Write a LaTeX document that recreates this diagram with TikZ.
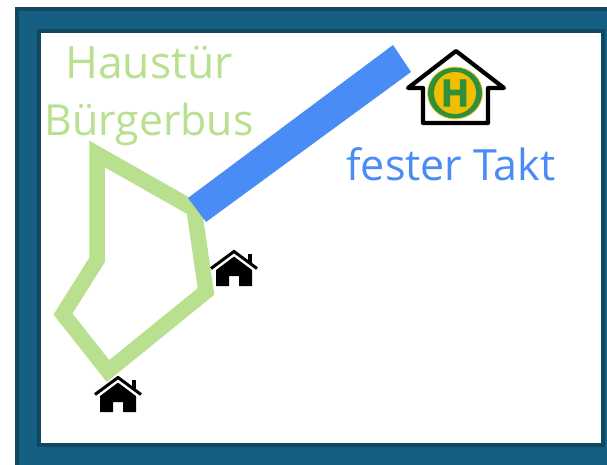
\documentclass[tikz,border=0pt]{standalone}
\usepackage{fontspec}
\setmainfont{Open Sans}
\newfontfamily\stopfont[FakeBold=2.5]{Open Sans Bold}
\definecolor{frameFill}{HTML}{156082}
\definecolor{frameEdge}{HTML}{104862}
\definecolor{routeGreen}{HTML}{B8E08E}
\definecolor{lineBlue}{HTML}{4A8CF5}
\definecolor{stopGreen}{HTML}{2F8F3A}
\definecolor{stopGold}{HTML}{F2BE00}
\tikzset{
  label green/.style={text=routeGreen,inner sep=0pt,anchor=base},
  label blue/.style={text=lineBlue,font=\fontsize{43}{43}\selectfont,inner sep=0pt,anchor=base},
  homeicon/.pic={
    \fill[black] (-18,17) -- (0,3) -- (18,17) -- (18,36) -- (5,36) -- (5,26) -- (-5,26) -- (-5,36) -- (-18,36) -- cycle;
    \fill[black] (13.5,4) rectangle (18,13);
    \draw[white,line width=3pt,line join=miter] (-22,21) -- (0,4.5) -- (22,21);
    \draw[black,line width=3pt,line join=miter] (-23,18.5) -- (0,1.5) -- (23,18.5);
  }
}
\begin{document}
\begin{tikzpicture}[x=1pt,y=-1pt]
\useasboundingbox (0,0) rectangle (607,465);
\fill[white] (0,0) rectangle (607,465);
% outer frame
\fill[frameEdge] (15,7) rectangle (607,465);
\fill[frameFill] (19,11) rectangle (607,465);
\fill[frameEdge] (37,29) rectangle (605,447);
\fill[white] (41,33) rectangle (601,442.5);
% green route
\draw[routeGreen,line width=15.5pt,line join=miter,miter limit=10]
  (97,154) -- (97,260) -- (63,314) -- (108,371) -- (206,291.5) -- (194,209) -- cycle;
% blue line
\fill[lineBlue] (188,198) -- (393,45) -- (411,72) -- (206,222) -- cycle;
% labels
\node[label green,font=\fontsize{44.5}{45}\selectfont] (haustuer) at (149,79) {Haustür};
\node[label green,font=\fontsize{42.8}{45}\selectfont] (buergerbus) at (149,136) {Bürgerbus};
\node[label blue] (takt) at (451,180) {fester Takt};
% homes
\pic at (234,250) {homeicon};
\pic at (118,376) {homeicon};
% bus stop
\draw[black,line width=4.2pt,line join=round,line cap=round]
  (423,88) -- (408,88) -- (456,51) -- (504,88) -- (488,88) -- (488,123) -- (423,123) -- cycle;
\fill[stopGold!70!white] (455,93) ellipse (28 and 26.5);
\fill[stopGreen] (455,93) ellipse (27 and 25.5);
\fill[stopGold] (455,93) ellipse (21 and 21);
\node[text=stopGreen,font=\fontsize{37}{37}\stopfont,inner sep=0pt] (stopH) at (455,93) {H};
\end{tikzpicture}
\end{document}
